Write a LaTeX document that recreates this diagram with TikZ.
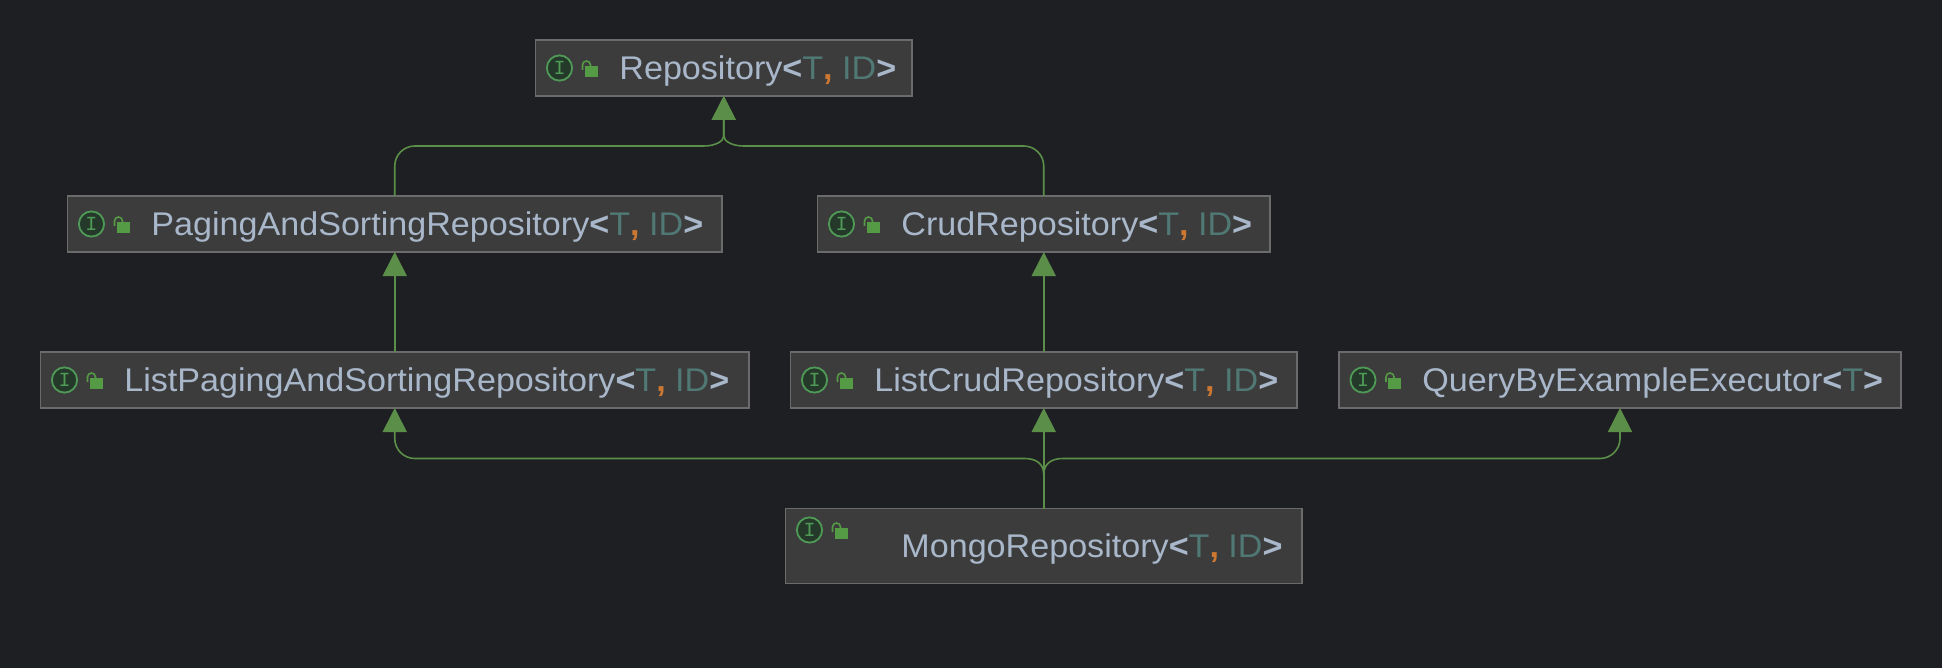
\documentclass[tikz,border=0pt]{standalone}
\usepackage{fontspec}
\setmainfont{Liberation Sans}[FakeStretch=1.04]
\newfontfamily\glyphfont{Liberation Mono}
\usetikzlibrary{arrows.meta,calc}
\definecolor{bgc}{HTML}{1E1F22}
\definecolor{boxc}{HTML}{3C3C3C}
\definecolor{edgec}{HTML}{6B6B6B}
\definecolor{linkc}{HTML}{5B8F49}
\definecolor{namec}{HTML}{A9B7CA}
\definecolor{parc}{HTML}{507874}
\definecolor{commac}{HTML}{CC7832}
\definecolor{ringc}{HTML}{4E9A56}
\definecolor{ringf}{HTML}{25392A}
\definecolor{lockc}{HTML}{559A45}
\tikzset{
  classbox/.style={draw=edgec,fill=boxc,line width=.8pt,inner sep=0pt,outer sep=0pt},
  classlabel/.style={anchor=base west,inner sep=0pt,text=namec,font=\fontsize{16.4}{20}\selectfont},
  ring/.style={circle,draw=ringc,fill=ringf,line width=.9pt,minimum size=12.6pt,inner sep=0pt,outer sep=0pt,
     text=ringc,font=\glyphfont\fontsize{10}{10}\selectfont},
  link/.style={draw=linkc,line width=.8pt},
  tipend/.style={link,-{Triangle[length=12pt,width=12pt,color=linkc]}},
  tipstart/.style={link,{Triangle[length=12pt,width=12pt,color=linkc]}-},
}
\newcommand{\brk}[1]{\textbf{#1}}
\newcommand{\tv}[1]{\textcolor{parc}{#1}}
\newcommand{\cm}{\textcolor{commac}{\textbf{,}}}
\newcommand{\tid}{\brk{<}\tv{T}\cm{} \tv{ID}\brk{>}}
% name, x0, y0, x1, y1, text x, icon y, text
\newcommand{\ifacebox}[8]{%
  \pgfmathsetmacro{\bw}{(#4-#2)*0.5}%
  \pgfmathsetmacro{\bh}{(#5-#3)*0.5}%
  \pgfmathsetmacro{\bcx}{(#2+#4)/2}%
  \pgfmathsetmacro{\bcy}{(#3+#5)/2}%
  \pgfmathsetmacro{\ix}{#2+24}%
  \pgfmathsetmacro{\lxa}{#2+49}%
  \pgfmathsetmacro{\lxb}{#2+62}%
  \pgfmathsetmacro{\lya}{#7-2}%
  \pgfmathsetmacro{\lyb}{#7+9}%
  \pgfmathsetmacro{\sxa}{#2+47}%
  \pgfmathsetmacro{\sxb}{#2+55}%
  \pgfmathsetmacro{\sya}{#7+2}%
  \pgfmathsetmacro{\syb}{#7-2}%
  \pgfmathsetmacro{\bly}{\bcy+11.5}%
  \node[classbox,minimum width=\bw pt,minimum height=\bh pt] (#1) at (\bcx,\bcy) {};
  \node[ring] (#1-icon) at (\ix,#7) {I};
  \fill[lockc] (\lxa,\lya) rectangle (\lxb,\lyb);
  \draw[lockc,line width=.8pt] (\sxa,\sya) -- (\sxa,#7-3) arc[start angle=180,end angle=360,radius=4] -- (\sxb,\syb);
  \node[classlabel] (#1-label) at (#6,\bly) {#8};
}
\begin{document}
\begin{tikzpicture}[x=.5pt,y=-.5pt]
\useasboundingbox (0,0) rectangle (1942,668);
\fill[bgc] (0,0) rectangle (1942,668);
\ifacebox{rep}{535.5}{40}{912}{96}{619}{68}{Repository\tid}
\ifacebox{pag}{67.5}{196}{722}{252}{151}{224}{PagingAndSortingRepository\tid}
\ifacebox{crud}{817.5}{196}{1270}{252}{901}{224}{CrudRepository\tid}
\ifacebox{lpag}{40.5}{352}{749}{408}{124}{380}{ListPagingAndSortingRepository\tid}
\ifacebox{lcrud}{790.5}{352}{1297}{408}{874}{380}{ListCrudRepository\tid}
\ifacebox{qbe}{1339}{352}{1901}{408}{1422}{380}{QueryByExampleExecutor\brk{<}\tv{T}\brk{>}}
\ifacebox{mongo}{785.5}{508.5}{1302}{583.5}{901}{530}{MongoRepository\tid}
\coordinate (topbus) at (0,146);
\coordinate (lowbus) at (0,458.5);
\coordinate (tl) at (pag.north |- topbus);
\coordinate (tr) at (crud.north |- topbus);
\coordinate (tm) at (rep.south |- topbus);
\coordinate (bl) at (lpag.south |- lowbus);
\coordinate (br) at (qbe.south |- lowbus);
\coordinate (bm) at (mongo.north |- lowbus);
% upper fork into Repository
\draw[tipend] (pag.north) -- ($(tl)+(0,20)$)
   .. controls ($(tl)+(0,9)$) and ($(tl)+(9,0)$) .. ($(tl)+(20,0)$)
   -- ($(tm)+(-20,0)$)
   .. controls ($(tm)+(-8,0)$) and ($(tm)+(0,-5)$) .. ($(tm)+(0,-10)$) -- (rep.south);
\draw[tipend] (crud.north) -- ($(tr)+(0,20)$)
   .. controls ($(tr)+(0,9)$) and ($(tr)+(-9,0)$) .. ($(tr)+(-20,0)$)
   -- ($(tm)+(20,0)$)
   .. controls ($(tm)+(8,0)$) and ($(tm)+(0,-5)$) .. ($(tm)+(0,-10)$) -- (rep.south);
% single inheritance
\draw[tipend] (lpag.north) -- (pag.south);
\draw[tipend] (lcrud.north) -- (crud.south);
% lower fork out of MongoRepository
\draw[tipend] (mongo.north) -- (lcrud.south);
\draw[tipstart] (lpag.south) -- ($(bl)+(0,-20)$)
   .. controls ($(bl)+(0,-9)$) and ($(bl)+(9,0)$) .. ($(bl)+(20,0)$)
   -- ($(bm)+(-19,0)$)
   .. controls ($(bm)+(-8,0)$) and ($(bm)+(0,5)$) .. ($(bm)+(0,16)$);
\draw[tipstart] (qbe.south) -- ($(br)+(0,-20)$)
   .. controls ($(br)+(0,-9)$) and ($(br)+(-9,0)$) .. ($(br)+(-20,0)$)
   -- ($(bm)+(19,0)$)
   .. controls ($(bm)+(8,0)$) and ($(bm)+(0,5)$) .. ($(bm)+(0,16)$);
\end{tikzpicture}
\end{document}
